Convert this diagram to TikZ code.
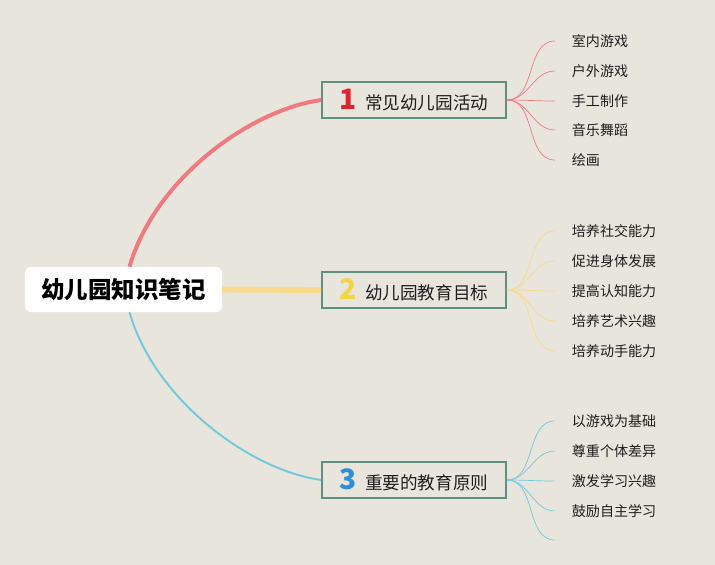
\documentclass[tikz,border=0pt]{standalone}
\usepackage{fontspec}
\setmainfont{Noto Sans CJK SC}
\usepackage{xcolor}
\usepackage{tikz}
\usetikzlibrary{positioning}
\definecolor{paper}{RGB}{232,229,221}
\definecolor{boxline}{RGB}{94,143,128}
\definecolor{redline}{RGB}{239,123,128}
\definecolor{yellowline}{RGB}{249,217,139}
\definecolor{blueline}{RGB}{114,200,219}
\definecolor{numred}{RGB}{216,37,46}
\definecolor{numyellow}{RGB}{244,212,63}
\definecolor{numblue}{RGB}{46,143,216}
\definecolor{inkgray}{RGB}{30,30,30}

\begin{document}
\begin{tikzpicture}[
  x=0.03cm, y=-0.03cm,
  rootbox/.style={fill=white, rounded corners=5pt, minimum width=5.91cm,
    minimum height=1.35cm, inner sep=0pt, font=\fontsize{20}{22}\selectfont\bfseries},
  branchbox/.style={draw=boxline, line width=1.4pt, fill=paper, minimum width=5.52cm,
    minimum height=1.08cm, inner sep=0pt, font=\fontsize{15}{17}\selectfont, text=inkgray},
  leaf/.style={anchor=west, inner xsep=0.5cm, inner ysep=2pt,
    font=\fontsize{12}{14}\selectfont, text=inkgray},
  twig/.style={line width=0.6pt},
]
  \def\num#1#2{\textcolor{#1}{\fontsize{24}{24}\selectfont\bfseries #2}\hspace{0.25cm}}

  % Background
  \fill[paper] (0,0) rectangle (715,565);
  \useasboundingbox (0,0) rectangle (715,565);

  % Root and main branches
  \node[rootbox] (root) at (123.5,289.5) {幼儿园知识笔记};
  \node[branchbox] (act) at (414,100) {\num{numred}{1}常见幼儿园活动};
  \node[branchbox] (goal) at (414,290) {\num{numyellow}{2}幼儿园教育目标};
  \node[branchbox] (rule) at (414,480) {\num{numblue}{3}重要的教育原则};

  % Connectors root -> branches
  \draw[redline, line width=3.4pt] ([xshift=0.18cm]root.north)
    .. controls +(25,-87) and +(-72,10) .. (act.west);
  \draw[yellowline, line width=5pt] (root.east) -- (goal.west);
  \draw[blueline, line width=1.6pt] ([xshift=0.18cm]root.south)
    .. controls +(25,87) and +(-72,-10) .. (rule.west);

  % Leaves: activities
  \foreach \i/\y/\t in {1/41/室内游戏, 2/71/户外游戏, 3/101/手工制作, 4/130/音乐舞蹈, 5/160/绘画}{
    \node[leaf] (act\i) at (555,\y) {\t};
    \draw[twig, redline] (act.east) to[out=0, in=180] (act\i.west);
  }

  % Leaves: goals
  \foreach \i/\y/\t in {1/231/培养社交能力, 2/261/促进身体发展, 3/291/提高认知能力, 4/321/培养艺术兴趣, 5/351/培养动手能力}{
    \node[leaf] (goal\i) at (555,\y) {\t};
    \draw[twig, yellowline] (goal.east) to[out=0, in=180] (goal\i.west);
  }

  % Leaves: principles
  \foreach \i/\y/\t in {1/421/以游戏为基础, 2/451/尊重个体差异, 3/481/激发学习兴趣, 4/511/鼓励自主学习}{
    \node[leaf] (rule\i) at (555,\y) {\t};
    \draw[twig, blueline] (rule.east) to[out=0, in=180] (rule\i.west);
  }
  \coordinate (rule5) at (555,540);
  \draw[twig, blueline] (rule.east) to[out=0, in=180] (rule5);
\end{tikzpicture}
\end{document}
